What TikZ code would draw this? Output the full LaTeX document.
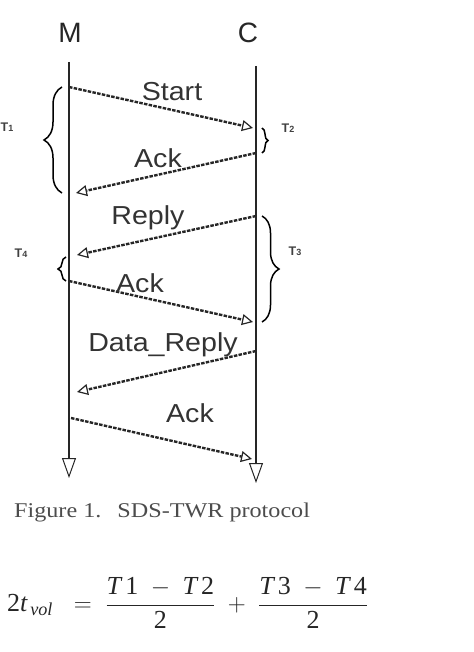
\documentclass[tikz,border=0pt]{standalone}
\usepackage{amsmath}
\usepackage{fontspec}
\usepackage{graphicx}
\setmainfont{Liberation Serif}
\newfontfamily\arialfont{Liberation Sans}
\usetikzlibrary{arrows.meta,decorations.pathreplacing}

\tikzset{
  lifeline/.style={line width=1.8pt, black!85, -{Triangle[open,length=20pt,width=14pt,line width=1pt]}},
  msg/.style={line width=2.4pt, black!85, dash pattern=on 3.5pt off 1.3pt,
    -{Triangle[open,length=11pt,width=11pt,line width=1.2pt]}},
  party/.style={font=\arialfont\fontsize{28}{28}\selectfont, text=black!85, inner sep=0pt},
  msglabel/.style={font=\arialfont\fontsize{26}{26}\selectfont, text=black!80, inner sep=0pt},
  tlabel/.style={font=\arialfont\bfseries\fontsize{12.5}{12.5}\selectfont, text=black!75, inner sep=0pt},
  gap/.style={line width=1.5pt, decorate, decoration={brace, amplitude=#1}},
}
\newcommand{\tsub}[1]{T{\fontsize{9}{9}\selectfont #1}}
\newcommand{\wide}[1]{\scalebox{1.1}[1]{#1}}
\newcommand{\ti}[1]{\text{\itshape #1}}
\newcommand{\tr}[1]{\text{#1}}

\begin{document}
\begin{tikzpicture}[x=1pt, y=-1pt]
  \useasboundingbox (0,0) rectangle (473,652);

  % parties
  \node[party] (M) at (70,33) {M};
  \node[party] (C) at (248,33) {C};
  \coordinate (mtop) at (69,62);
  \coordinate (mbot) at (69,478);
  \coordinate (ctop) at (256,66);
  \coordinate (cbot) at (256,483);
  \draw[lifeline] (mtop) -- (mbot);
  \draw[lifeline] (ctop) -- (cbot);

  % message end points
  \coordinate (m1) at (69,87);   \coordinate (c1) at (253,128);
  \coordinate (c2) at (256,153); \coordinate (m2) at (76,193);
  \coordinate (c3) at (256,216); \coordinate (m3) at (77,255);
  \coordinate (m4) at (69,281);  \coordinate (c4) at (253,322);
  \coordinate (c5) at (256,351); \coordinate (m5) at (77,392);
  \coordinate (m6) at (71,418);  \coordinate (c6) at (252,459);

  % messages
  \draw[msg] (m1) -- (c1);
  \draw[msg] (c2) -- (m2);
  \draw[msg] (c3) -- (m3);
  \draw[msg] (m4) -- (c4);
  \draw[msg] (c5) -- (m5);
  \draw[msg] (m6) -- (c6);
  \node[msglabel] (start) at (172,92) {\wide{Start}};
  \node[msglabel] (ack1) at (158,158) {\wide{Ack}};
  \node[msglabel] (reply) at (148,218) {\wide{Reply}};
  \node[msglabel] (ack2) at (140,283) {\wide{Ack}};
  \node[msglabel] (datareply) at (163,345) {\wide{Data\_Reply}};
  \node[msglabel] (ack3) at (190,413) {\wide{Ack}};

  % intervals
  \draw[gap=18pt] (62,193) -- (62,87);
  \draw[gap=6pt] (262,128) -- (262,153);
  \draw[gap=17pt] (262,216) -- (262,322);
  \draw[gap=8pt] (66,281) -- (66,257);
  \node[tlabel] (t1) at (7,127) {\tsub{1}};
  \node[tlabel] (t2) at (288,128) {\tsub{2}};
  \node[tlabel] (t3) at (295,251) {\tsub{3}};
  \node[tlabel] (t4) at (21,253) {\tsub{4}};

  % caption and formula
  \node[text=black!70, font=\fontsize{21}{21}\selectfont, anchor=west, inner sep=0pt]
    (caption) at (14,512) {\scalebox{1.15}[1]{Figure 1.\hspace{14pt}SDS-TWR protocol}};
  \node[text=black!85, font=\fontsize{26}{26}\selectfont, anchor=west, inner sep=0pt]
    (formula) at (7,603)
    {$\displaystyle \tr{2}\ti{t}_{\,\ti{vol}}\;\;=\;\frac{\ti{T}\,\tr{1}\;-\;\ti{T}\,\tr{2}}{\tr{2}}\;+\;\frac{\ti{T}\,\tr{3}\;-\;\ti{T}\,\tr{4}}{\tr{2}}$};
\end{tikzpicture}
\end{document}
